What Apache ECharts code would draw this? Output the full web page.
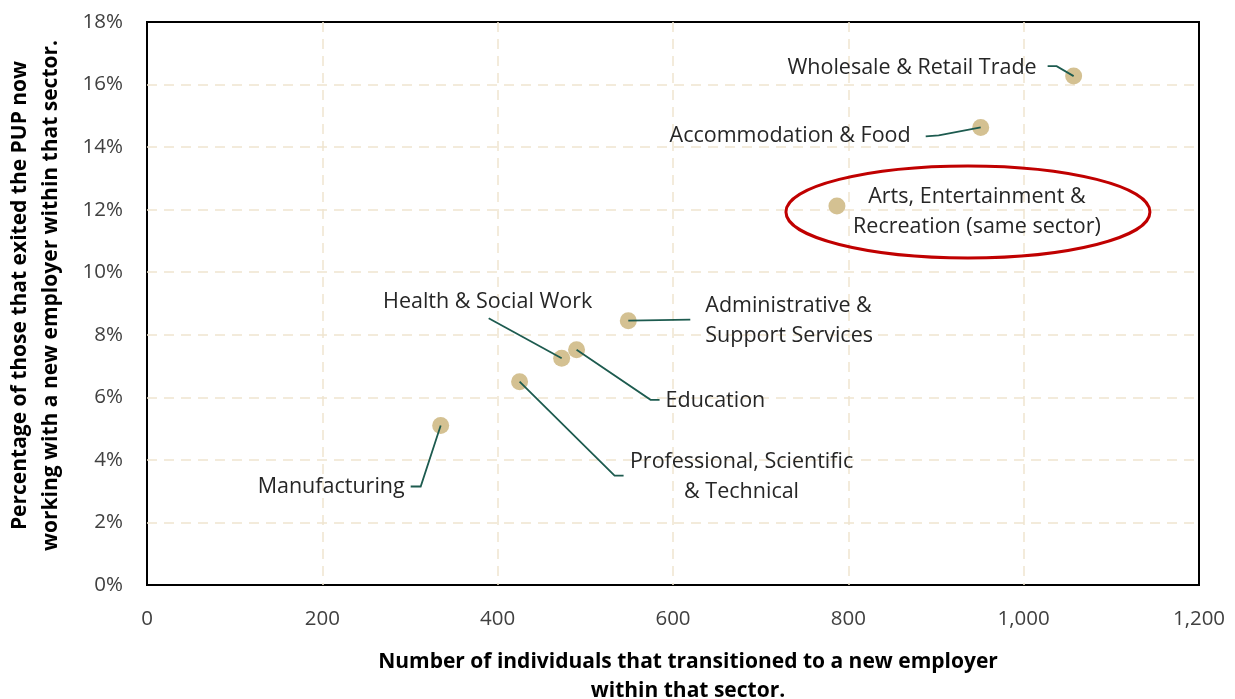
<!DOCTYPE html>
<html>
<head>
<meta charset="utf-8">
<script src="https://cdn.jsdelivr.net/npm/echarts@6/dist/echarts.min.js"></script>
<style>
  html, body { margin: 0; padding: 0; background: #fff; }
  #chart { width: 1235px; height: 699px; }
</style>
</head>
<body>
<div id="chart"></div>
<script>
// 数据：行业、进入新雇主的人数、同行业占比（%）
const sectors = [
  'Wholesale & Retail Trade',
  'Accommodation & Food',
  'Arts, Entertainment &\nRecreation (same sector)',
  'Administrative &\nSupport Services',
  'Health & Social Work',
  'Education',
  'Professional, Scientific\n& Technical',
  'Manufacturing'
];
const individuals = [1057, 951, 787, 549, 473, 490, 425, 335];
const sameSectorPct = [16.27, 14.63, 12.12, 8.45, 7.25, 7.52, 6.50, 5.10];
const xTicks = [0, 200, 400, 600, 800, 1000, 1200];
const yTicks = [0, 2, 4, 6, 8, 10, 12, 14, 16, 18];

// 标签相对于点的偏移（像素），引导线也是相对点的偏移
const labelStyle = [
  { dx: -37, dy: -8, align: 'right', line: [[-26, -10], [-17, -10], [0, 0]] },
  { dx: -70, dy: 8, align: 'right', line: [[-55, 9], [-42, 8], [0, 0]] },
  { dx: 140, dy: 6, align: 'center', ring: [131, 6, 182, 46] },
  { dx: 77, dy: 0, align: 'left', line: [[0, 0], [62, -1]] },
  { dx: -74, dy: -56, align: 'center', line: [[-73, -40], [0, 0]] },
  { dx: 89, dy: 51, align: 'left', line: [[0, 0], [74, 50], [83, 50]] },
  { dx: 222, dy: 95, align: 'center', line: [[0, 0], [95, 94], [104, 94]] },
  { dx: -36, dy: 61, align: 'right', line: [[-30, 61], [-20, 61], [0, 0]] }
];

const points = individuals.map((v, i) => [v, sameSectorPct[i]]);
const FONT = '"Open Sans", "Noto Sans", sans-serif';
const gridLine = { color: '#F0E5CF', width: 1.5, type: [10, 7] };

const chart = echarts.init(document.getElementById('chart'));
chart.setOption({
  animation: false,
  grid: {
    left: 147, right: 36, top: 22, bottom: 114,
    outerBoundsMode: 'none',
    show: true,
    borderColor: '#000',
    borderWidth: 2
  },
  xAxis: {
    type: 'value',
    min: xTicks[0],
    max: xTicks[xTicks.length - 1],
    interval: xTicks[1] - xTicks[0],
    axisLine: { show: false },
    axisTick: { show: false },
    axisLabel: {
      margin: 24,
      color: '#404040',
      fontFamily: FONT,
      fontSize: 20.5,
      formatter: (v) => v.toLocaleString('en-US')
    },
    splitLine: { showMinLine: false, showMaxLine: false, lineStyle: gridLine },
    name: 'Number of individuals that transitioned to a new employer\nwithin that sector.',
    nameLocation: 'middle',
    nameGap: 63,
    nameTextStyle: {
      color: '#000',
      fontFamily: FONT,
      fontWeight: 'bold',
      fontSize: 21,
      lineHeight: 29,
      padding: [0, 0, 0, 30]
    }
  },
  yAxis: {
    type: 'value',
    min: yTicks[0],
    max: yTicks[yTicks.length - 1],
    interval: yTicks[1] - yTicks[0],
    axisLine: { show: false },
    axisTick: { show: false },
    axisLabel: {
      margin: 24,
      color: '#404040',
      fontFamily: FONT,
      fontSize: 20.5,
      formatter: '{value}%'
    },
    splitLine: { showMinLine: false, showMaxLine: false, lineStyle: gridLine },
    name: 'Percentage of those that exited the PUP now\nworking with a new employer within that sector.',
    nameLocation: 'middle',
    nameRotate: 90,
    nameGap: 80,
    nameTextStyle: {
      color: '#000',
      fontFamily: FONT,
      fontWeight: 'bold',
      fontSize: 21,
      lineHeight: 31,
      padding: [0, 0, 0, 16]
    }
  },
  series: [
    {
      type: 'scatter',
      data: points,
      symbolSize: 17,
      itemStyle: { color: '#D4C192', opacity: 1 },
      z: 2
    },
    {
      type: 'custom',
      data: points,
      z: 3,
      renderItem: function (params, api) {
        const i = params.dataIndex;
        const c = api.coord([api.value(0), api.value(1)]);
        const s = labelStyle[i];
        const children = [];
        if (s.ring) {
          children.push({
            type: 'ellipse',
            shape: { cx: c[0] + s.ring[0], cy: c[1] + s.ring[1], rx: s.ring[2], ry: s.ring[3] },
            style: { fill: 'none', stroke: '#C00000', lineWidth: 3 }
          });
        }
        if (s.line) {
          children.push({
            type: 'polyline',
            shape: { points: s.line.map((o) => [c[0] + o[0], c[1] + o[1]]) },
            style: { fill: 'none', stroke: '#1D5B4F', lineWidth: 1.8 }
          });
        }
        children.push({
          type: 'text',
          x: c[0] + s.dx,
          y: c[1] + s.dy,
          style: {
            text: sectors[i],
            align: s.align,
            verticalAlign: 'middle',
            fill: '#262626',
            font: '21.5px ' + FONT,
            lineHeight: 30
          }
        });
        return { type: 'group', children: children };
      }
    }
  ]
});
</script>
</body>
</html>
